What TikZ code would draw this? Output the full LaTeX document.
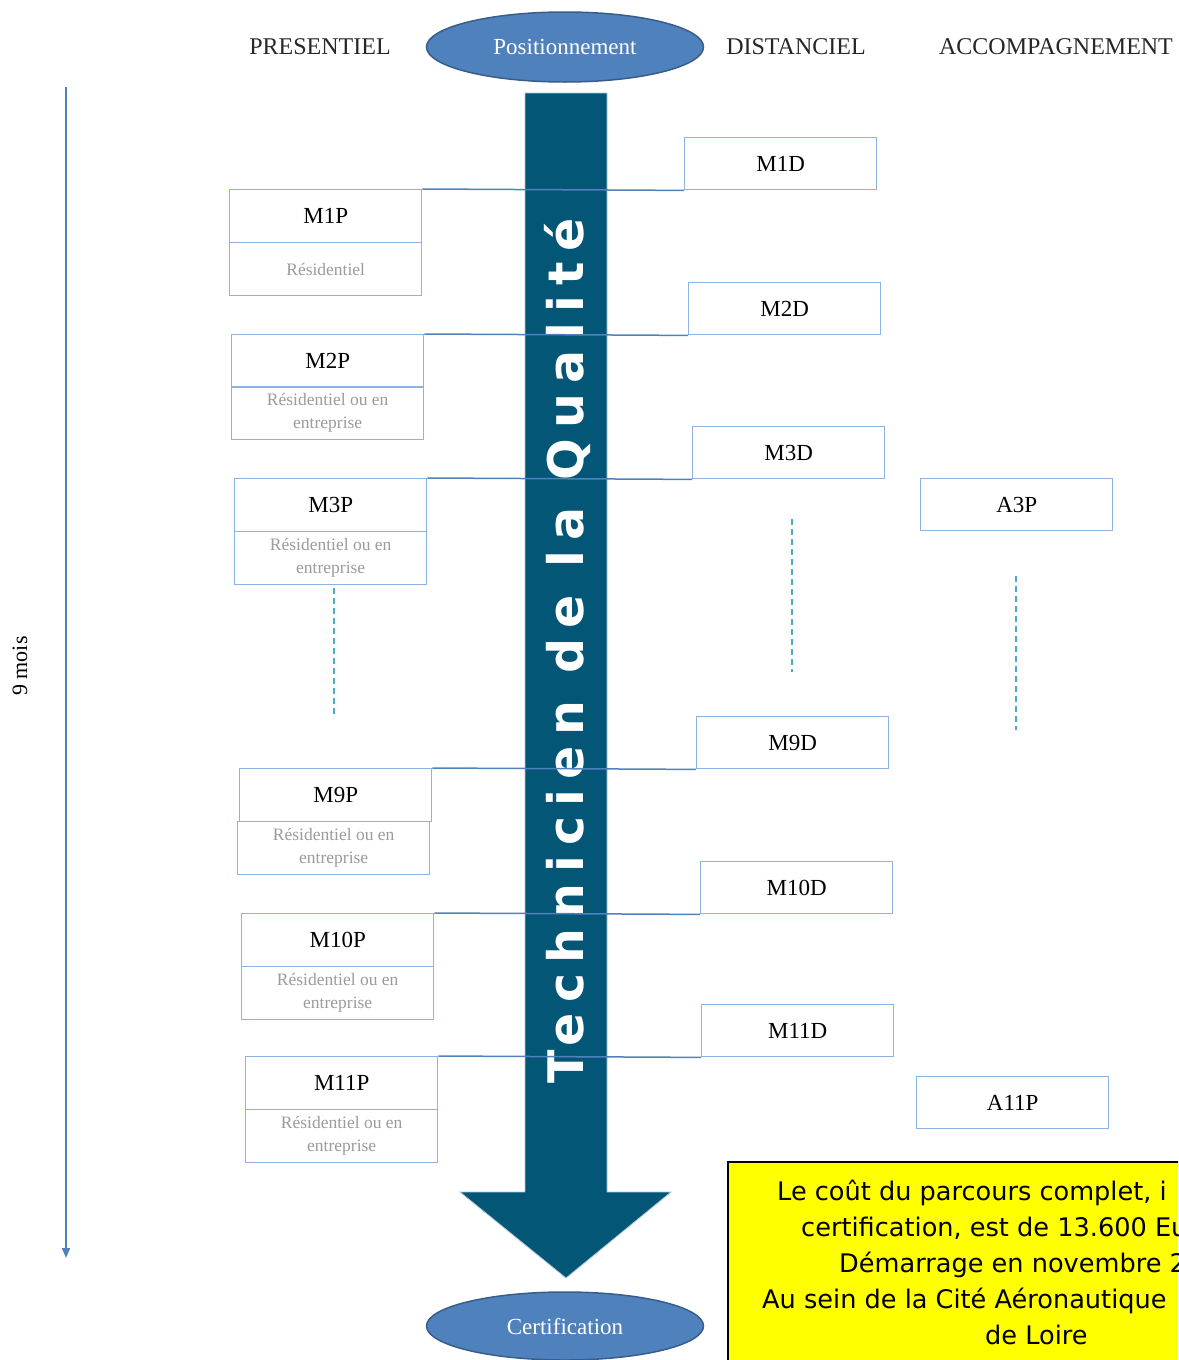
\documentclass[tikz,border=0pt]{standalone}
\usepackage{fontspec}
\setmainfont{Liberation Serif}
\newfontfamily\arrowfont[LetterSpace=21]{DejaVu Sans}
\newfontfamily\notefont{DejaVu Sans}
\usetikzlibrary{shapes.geometric,arrows.meta}
\definecolor{ellfill}{RGB}{79,129,189}
\definecolor{elldraw}{RGB}{56,93,138}
\definecolor{arrowteal}{RGB}{4,86,118}
\definecolor{arrowedge}{RGB}{170,200,225}
\definecolor{boxblue}{RGB}{141,179,226}
\definecolor{linkblue}{RGB}{79,129,189}
\definecolor{dashblue}{RGB}{75,172,198}
\definecolor{subgray}{RGB}{155,155,155}
\definecolor{notey}{RGB}{255,255,0}
\begin{document}
\begin{tikzpicture}[x=1pt,y=-1pt,
  hdr/.style={font=\fontsize{24}{28}\selectfont, inner sep=0, text=black!85},
  topbox/.style={draw=boxblue, line width=1.4pt, minimum width=192pt, minimum height=53pt,
    inner sep=0, anchor=north west, font=\fontsize{23}{27}\selectfont},
  dbox/.style={topbox, minimum height=52pt},
  subbox/.style={topbox, text=subgray, font=\fontsize{17.5}{23}\selectfont, align=center},
  link/.style={draw=linkblue, line width=1.5pt},
  guide/.style={draw=dashblue, line width=1.3pt, dash pattern=on 6pt off 4pt},
  ell/.style={ellipse, fill=ellfill, draw=elldraw, line width=1.5pt, minimum width=277pt,
    minimum height=70pt, text=white, inner sep=0, font=\fontsize{23}{27}\selectfont},
  noteline/.style={anchor=base west, inner sep=0, font=\notefont\fontsize{25.6}{36}\selectfont},
  timeline/.style={draw=linkblue, line width=2pt, -{Triangle[length=10pt,width=8pt]}}
]
\useasboundingbox (0,0) rectangle (1178,1360);
\clip (0,0) rectangle (1178,1360);

% headers
\node[hdr] (hp) at (320,47) {PRESENTIEL};
\node[hdr] (hd) at (796,47) {DISTANCIEL};
\node[hdr] (ha) at (1056,47) {ACCOMPAGNEMENT};

% ellipses
\node[ell] (pos) at (565,47) {Positionnement};
\node[ell, minimum height=68pt] (cert) at (565,1326) {Certification};

% big arrow
\path[fill=arrowteal, draw=arrowedge, line width=0.8pt]
  (525,93) -- (607,93) -- (607,1192) -- (671,1192) -- (566,1278) -- (460,1192) -- (525,1192) -- cycle;
\node[rotate=90, anchor=base, inner sep=0, text=white,
  font=\arrowfont\bfseries\fontsize{49}{49}\selectfont] (title) at (583,651) {Technicien de la Qualité};

% timeline
\node[rotate=90, inner sep=0, font=\fontsize{22}{26}\selectfont] (mois) at (20,666) {9 mois};
\coordinate (tltop) at (66,87);
\coordinate (tlbot) at (66,1258);
\draw[timeline] (tltop) -- (tlbot);

% distanciel boxes
\node[dbox] (m1d) at (684,137) {M1D};
\node[dbox] (m2d) at (688,282) {M2D};
\node[dbox] (m3d) at (692,426) {M3D};
\node[dbox] (m9d) at (696,716) {M9D};
\node[dbox] (m10d) at (700,861) {M10D};
\node[dbox] (m11d) at (701,1004) {M11D};

% presentiel boxes
\node[topbox] (m1p) at (229,189) {M1P};
\node[subbox] (m1ps) at (229,242) {Résidentiel};
\node[topbox] (m2p) at (231,334) {M2P};
\node[subbox] (m2ps) at (231,386) {Résidentiel ou en\\entreprise};
\node[topbox] (m3p) at (234,478) {M3P};
\node[subbox] (m3ps) at (234,531) {Résidentiel ou en\\entreprise};
\node[topbox] (m9p) at (239,768) {M9P};
\node[subbox] (m9ps) at (237,821) {Résidentiel ou en\\entreprise};
\node[topbox] (m10p) at (241,913) {M10P};
\node[subbox] (m10ps) at (241,966) {Résidentiel ou en\\entreprise};
\node[topbox] (m11p) at (245,1056) {M11P};
\node[subbox] (m11ps) at (245,1109) {Résidentiel ou en\\entreprise};

% accompagnement boxes
\node[dbox] (a3p) at (920,478) {A3P};
\node[dbox] (a11p) at (916,1076) {A11P};

% links
\draw[link] (m1p.north east) -- (m1d.south west);
\draw[link] (m2p.north east) -- (m2d.south west);
\draw[link] (m3p.north east) -- (m3d.south west);
\draw[link] (m9p.north east) -- (m9d.south west);
\draw[link] (m10p.north east) -- (m10d.south west);
\draw[link] (m11p.north east) -- (m11d.south west);

% dashed continuation guides
\coordinate (gp1) at (334,588); \coordinate (gp2) at (334,718);
\coordinate (gd1) at (792,519); \coordinate (gd2) at (792,672);
\coordinate (ga1) at (1016,576); \coordinate (ga2) at (1016,730);
\draw[guide] (gp1) -- (gp2);
\draw[guide] (gd1) -- (gd2);
\draw[guide] (ga1) -- (ga2);

% note
\node[draw=black, line width=2pt, fill=notey, minimum width=620pt, minimum height=260pt,
  anchor=north west, inner sep=0] (note) at (727,1161) {};
\node[noteline] (n1) at (777,1200) {Le coût du parcours complet, i};
\node[noteline] (n2) at (801,1236) {certification, est de 13.600 Eu};
\node[noteline] (n3) at (839,1272) {Démarrage en novembre 2};
\node[noteline] (n4) at (762,1308) {Au sein de la Cité Aéronautique};
\node[noteline] (n5) at (985,1344) {de Loire};
\end{tikzpicture}
\end{document}
